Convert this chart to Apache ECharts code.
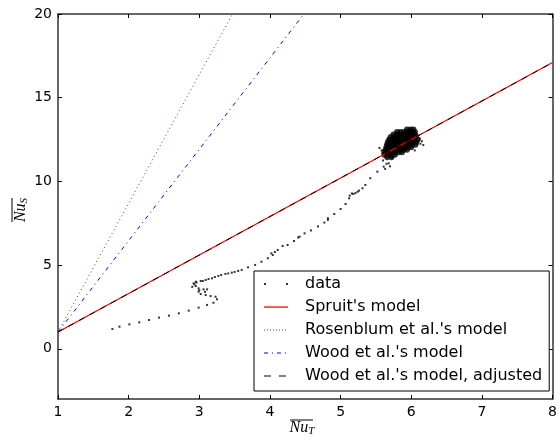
<!DOCTYPE html>
<html>
<head>
<meta charset="utf-8">
<script src="https://cdn.jsdelivr.net/npm/echarts@6/dist/echarts.min.js"></script>
<style>
  html, body { margin: 0; padding: 0; background: #fff; }
  #chart { width: 560px; height: 440px; }
</style>
</head>
<body>
<div id="chart"></div>
<script>
// tick values
const xTicks = [1, 2, 3, 4, 5, 6, 7, 8]
const yTicks = [0, 5, 10, 15, 20]

const dataTrack = [
  [1.77, 1.18], [1.87, 1.32], [2.01, 1.46], [2.15, 1.58], [2.29, 1.72], [2.43, 1.86],
  [2.57, 1.98], [2.71, 2.12], [2.85, 2.28], [2.99, 2.46], [3.11, 2.62], [3.20, 2.75],
  [3.25, 2.96], [3.23, 3.11], [3.16, 3.15], [3.09, 3.21], [3.02, 3.27], [2.99, 3.41],
  [3.00, 3.50], [3.06, 3.55], [3.11, 3.55], [3.08, 3.40], [2.99, 3.61], [2.95, 3.75],
  [2.90, 3.70], [2.93, 3.85], [2.92, 3.91], [2.95, 4.01], [2.96, 3.96], [3.02, 4.05],
  [3.05, 4.05], [3.09, 4.11], [3.13, 4.17], [3.18, 4.21], [3.22, 4.29], [3.27, 4.35],
  [3.31, 4.41], [3.37, 4.47], [3.41, 4.50], [3.46, 4.55], [3.50, 4.59], [3.55, 4.65],
  [3.60, 4.71], [3.69, 4.87], [3.79, 5.01], [3.88, 5.20], [3.97, 5.41], [4.02, 5.70],
  [4.04, 5.60], [4.07, 5.78], [4.11, 5.90], [4.18, 6.14], [4.25, 6.20], [4.34, 6.44],
  [4.40, 6.65], [4.42, 6.70], [4.49, 6.90], [4.58, 7.07], [4.68, 7.31], [4.77, 7.54],
  [4.82, 7.80], [4.82, 7.70], [4.91, 8.05], [5.00, 8.35], [5.07, 8.65], [5.12, 8.99],
  [5.13, 9.15], [5.16, 9.28], [5.18, 9.25], [5.21, 9.30], [5.24, 9.38], [5.26, 9.45],
  [5.31, 9.59], [5.35, 9.79], [5.42, 10.19], [5.52, 10.58], [5.61, 10.88], [5.68, 11.08],
  [5.73, 11.40], [5.60, 11.25], [5.65, 11.05], [5.70, 10.90], [5.63, 10.75]
]

// dense cloud at the end of the run
const dataCloud = [
  [5.94, 13.10], [5.99, 13.10], [6.03, 13.10],
  [5.80, 12.95], [5.85, 12.95], [5.90, 12.95], [5.95, 12.95], [6.00, 12.95], [6.05, 12.95],
  [5.75, 12.80], [5.80, 12.80], [5.85, 12.80], [5.90, 12.80], [5.95, 12.80], [6.00, 12.80], [6.05, 12.80],
  [5.71, 12.65], [5.76, 12.65], [5.81, 12.65], [5.86, 12.65], [5.91, 12.65], [5.96, 12.65], [6.01, 12.65], [6.06, 12.65],
  [5.69, 12.50], [5.74, 12.50], [5.79, 12.50], [5.84, 12.50], [5.89, 12.50], [5.94, 12.50], [5.99, 12.50], [6.04, 12.50], [6.09, 12.50],
  [5.67, 12.35], [5.72, 12.35], [5.77, 12.35], [5.82, 12.35], [5.87, 12.35], [5.92, 12.35], [5.97, 12.35], [6.02, 12.35], [6.07, 12.35],
  [5.66, 12.20], [5.71, 12.20], [5.76, 12.20], [5.81, 12.20], [5.86, 12.20], [5.91, 12.20], [5.96, 12.20], [6.01, 12.20], [6.06, 12.20],
  [5.65, 12.05], [5.70, 12.05], [5.75, 12.05], [5.80, 12.05], [5.85, 12.05], [5.90, 12.05], [5.95, 12.05], [6.00, 12.05],
  [5.64, 11.90], [5.69, 11.90], [5.74, 11.90], [5.79, 11.90], [5.84, 11.90], [5.89, 11.90], [5.94, 11.90],
  [5.62, 11.75], [5.67, 11.75], [5.72, 11.75], [5.77, 11.75], [5.82, 11.75], [5.87, 11.75],
  [5.62, 11.60], [5.67, 11.60], [5.72, 11.60], [5.77, 11.60],
  [5.66, 11.45], [5.72, 11.45]
]
const dataStray = [
  [6.12, 12.55], [6.15, 12.40], [6.17, 12.17], [6.13, 12.25], [6.10, 12.75],
  [5.55, 12.00], [5.58, 11.85], [6.05, 11.85]
]

// model lines, end points
const spruitLine = [[1, 1], [8, 17.1]]
const rosenblumLine = [[1, 1], [3.47, 20]]
const woodLine = [[1, 1], [4.48, 20]]
const woodAdjustedLine = [[1, 1], [8, 17.1]]

const chart = echarts.init(document.getElementById('chart'), null, { renderer: 'canvas' })

const font = 'DejaVu Sans'
const axisColor = '#333'

// legend icons (24x14 box; the leading moves pin the bounds)
const box = 'path://M0,0M24,14'
const iconDots = box + 'M0,6h2v2h-2zM22,6h2v2h-2z'
const iconSolid = box + 'M0,6.4h24v1.3h-24z'
const iconDotted = box + 'M0,6.5h1v1h-1zM3,6.5h1v1h-1zM6,6.5h1v1h-1zM9,6.5h1v1h-1zM12,6.5h1v1h-1zM15,6.5h1v1h-1zM18,6.5h1v1h-1zM21,6.5h1v1h-1z'
const iconDashDot = box + 'M0,6.5h4v1h-4zM8,6.5h1v1h-1zM13,6.5h4v1h-4zM21,6.5h1v1h-1z'
const iconDashed = box + 'M0,6.5h7v1h-7zM15,6.5h7v1h-7z'

function xAxisOf(pos, showLabels) {
  return {
    type: 'value', position: pos, min: 1, max: 8, interval: 1,
    axisLine: { show: true, onZero: false, lineStyle: { color: axisColor, width: 1.5 } },
    axisTick: { show: true, inside: true, length: 4, lineStyle: { color: '#000' } },
    axisLabel: { show: showLabels, color: '#000', fontSize: 14, fontFamily: font, margin: 6 },
    splitLine: { show: false }
  }
}

function yAxisOf(pos, showLabels) {
  return {
    type: 'value', position: pos, min: -3, max: 20,
    axisLine: { show: true, onZero: false, lineStyle: { color: axisColor, width: 1.5 } },
    axisTick: { show: true, inside: true, length: 4, customValues: yTicks, lineStyle: { color: '#000' } },
    axisLabel: { show: showLabels, color: '#000', fontSize: 14, fontFamily: font, margin: 6, customValues: yTicks },
    splitLine: { show: false }
  }
}

const option = {
  backgroundColor: '#fff',
  animation: false,
  textStyle: { fontFamily: font },
  grid: { left: 58, right: 3, top: 14, bottom: 41 },
  legend: {
    orient: 'vertical',
    left: 254,
    top: 271,
    padding: [5, 7, 7, 10],
    itemWidth: 24,
    itemHeight: 14,
    itemGap: 7,
    backgroundColor: '#fff',
    borderColor: '#000',
    borderWidth: 1,
    borderRadius: 0,
    textStyle: { fontFamily: font, fontSize: 16, color: '#000', padding: [0, 0, 0, 12] },
    data: [
      { name: 'data', icon: iconDots, itemStyle: { color: '#000' } },
      { name: "Spruit's model", icon: iconSolid, itemStyle: { color: '#ff0000' } },
      { name: "Rosenblum et al.'s model", icon: iconDotted, itemStyle: { color: '#008000' } },
      { name: "Wood et al.'s model", icon: iconDashDot, itemStyle: { color: '#0000ff' } },
      { name: "Wood et al.'s model, adjusted", icon: iconDashed, itemStyle: { color: '#000' } }
    ]
  },
  xAxis: [xAxisOf('bottom', true), xAxisOf('top', false)],
  yAxis: [yAxisOf('left', true), yAxisOf('right', false)],
  series: [
    {
      name: 'data', type: 'scatter', data: dataTrack,
      symbol: 'rect', symbolSize: 2, itemStyle: { color: '#000' }, silent: true
    },
    {
      name: 'data', type: 'scatter', data: dataCloud,
      symbol: 'circle', symbolSize: 6.2, itemStyle: { color: '#000' }, silent: true
    },
    {
      name: 'data', type: 'scatter', data: dataStray,
      symbol: 'rect', symbolSize: 2, itemStyle: { color: '#000' }, silent: true
    },
    {
      name: "Spruit's model", type: 'line', data: spruitLine, symbol: 'none',
      lineStyle: { color: '#ff0000', width: 1.3 }, itemStyle: { color: '#ff0000' }
    },
    {
      name: "Rosenblum et al.'s model", type: 'line', data: rosenblumLine, symbol: 'none',
      lineStyle: { color: '#008000', width: 1, type: [1, 3] }, itemStyle: { color: '#008000' }
    },
    {
      name: "Wood et al.'s model", type: 'line', data: woodLine, symbol: 'none',
      lineStyle: { color: '#0000ff', width: 1, type: [4, 4, 1, 4] }, itemStyle: { color: '#0000ff' }
    },
    {
      name: "Wood et al.'s model, adjusted", type: 'line', data: woodAdjustedLine, symbol: 'none',
      lineStyle: { color: '#000', width: 1, type: [6, 6] }, itemStyle: { color: '#000' }
    }
  ],
  graphic: [
    // x axis title with overline
    {
      type: 'text', x: 302, y: 428,
      style: {
        text: '{n|Nu}{s|T}',
        align: 'center', verticalAlign: 'middle',
        rich: {
          n: { fontFamily: 'Liberation Serif', fontStyle: 'italic', fontSize: 16, fill: '#000' },
          s: { fontFamily: 'Liberation Serif', fontStyle: 'italic', fontSize: 11, fill: '#000', padding: [6, 0, 0, 0] }
        }
      }
    },
    { type: 'line', shape: { x1: 290, y1: 420, x2: 313, y2: 420 }, style: { stroke: '#000', lineWidth: 1 } },
    // y axis title with overline
    {
      type: 'text', x: 21, y: 210, rotation: Math.PI / 2,
      style: {
        text: '{n|Nu}{s|S}',
        align: 'center', verticalAlign: 'middle',
        rich: {
          n: { fontFamily: 'Liberation Serif', fontStyle: 'italic', fontSize: 16, fill: '#000' },
          s: { fontFamily: 'Liberation Serif', fontStyle: 'italic', fontSize: 11, fill: '#000', padding: [6, 0, 0, 0] }
        }
      }
    },
    { type: 'line', shape: { x1: 12, y1: 198, x2: 12, y2: 222 }, style: { stroke: '#000', lineWidth: 1 } }
  ]
}

chart.setOption(option)
</script>
</body>
</html>
